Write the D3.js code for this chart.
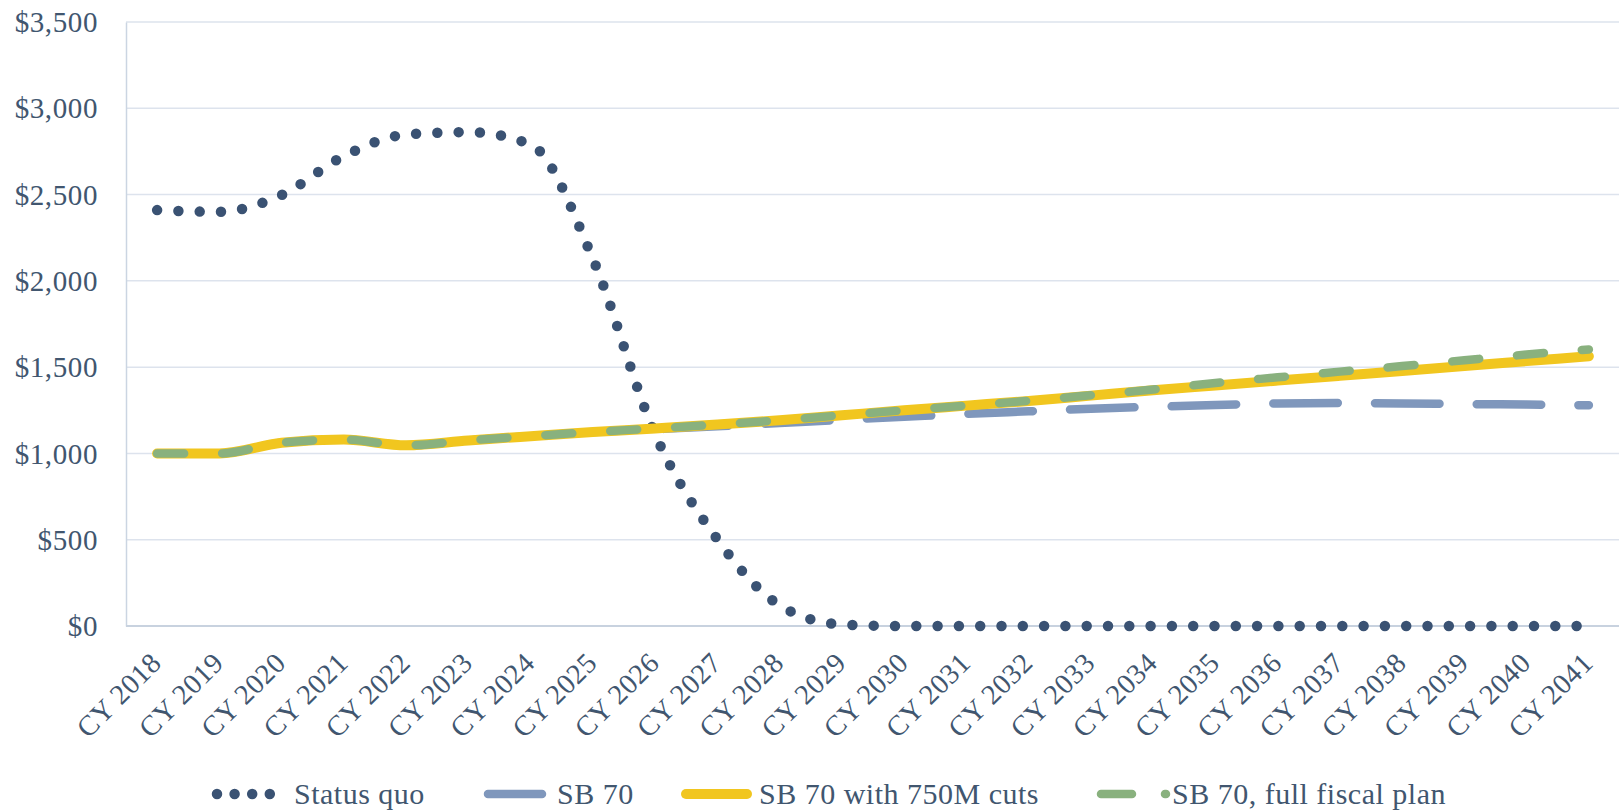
<html>
<head>
	<script src="https://d3js.org/d3.v7.min.js"></script>
	<style>
		body { margin: 0; background: #fff; }
		text { font-family: "Liberation Serif", "Times New Roman", serif; fill: #41566f; }
	</style>
</head>
<body>
	<svg></svg>
</body>
<script type="text/javascript">
	// values, one entry per calendar year
	var years = ["CY 2018", "CY 2019", "CY 2020", "CY 2021", "CY 2022", "CY 2023", "CY 2024", "CY 2025",
		"CY 2026", "CY 2027", "CY 2028", "CY 2029", "CY 2030", "CY 2031", "CY 2032", "CY 2033",
		"CY 2034", "CY 2035", "CY 2036", "CY 2037", "CY 2038", "CY 2039", "CY 2040", "CY 2041"];
	var statusQuo = [2410, 2400, 2498, 2723, 2848, 2862, 2790, 2128, 1111, 502, 120, 9,
		0, 0, 0, 0, 0, 0, 0, 0, 0, 0, 0, 0];
	var sb70 = [1000, 1000, 1062, 1080, 1047, 1075, 1100, 1124, 1140, 1157, 1176, 1195,
		1212, 1229, 1244, 1259, 1270, 1280, 1290, 1292, 1290, 1286, 1283, 1279];
	var sb70Cuts = [1000, 1000, 1062, 1080, 1047, 1075, 1100, 1124, 1145, 1167, 1192, 1221,
		1250, 1277, 1304, 1335, 1366, 1394, 1422, 1450, 1478, 1507, 1535, 1563];
	var sb70Full = [1000, 1000, 1062, 1080, 1047, 1075, 1100, 1124, 1145, 1167, 1192, 1221,
		1250, 1277, 1305, 1337, 1370, 1408, 1441, 1474, 1506, 1540, 1573, 1602];
	var yTicks = [0, 500, 1000, 1500, 2000, 2500, 3000, 3500];

	var width = 1619, height = 812;
	var margin = {"left": 126, "right": -1, "top": 22, "bottom": 186};

	var svg = d3.select("svg")
		.attr("width", width)
		.attr("height", height);

	var x = d3.scaleBand()
		.domain(years)
		.range([margin.left, width - margin.right]);
	var y = d3.scaleLinear()
		.domain([0, 3500])
		.range([height - margin.bottom, margin.top]);
	var cx = function(d) { return x(d) + x.bandwidth() / 2; };

	// gridlines
	svg.append("g")
		.selectAll("line")
		.data(yTicks.slice(1))
		.join("line")
		.attr("x1", margin.left).attr("x2", width)
		.attr("y1", function(d) { return y(d); })
		.attr("y2", function(d) { return y(d); })
		.attr("stroke", "#dde3ed")
		.attr("stroke-width", 1.5);

	// y axis
	var yAxis = svg.append("g")
		.attr("transform", "translate(" + margin.left + ",0)")
		.call(d3.axisLeft(y).tickValues(yTicks).tickSize(0).tickPadding(28)
			.tickFormat(function(d) { return "$" + d3.format(",")(d); }));
	yAxis.select(".domain").attr("stroke", "#cbd5e2").attr("stroke-width", 1.5);
	yAxis.selectAll("text")
		.attr("font-size", 29)
		.attr("letter-spacing", 0.6)
		.attr("dy", "0.33em");

	// x axis
	var xAxis = svg.append("g")
		.attr("transform", "translate(0," + y(0) + ")")
		.call(d3.axisBottom(x).tickSize(0).tickPadding(0));
	xAxis.select(".domain").attr("stroke", "#c8d2df").attr("stroke-width", 2).attr("d", "M" + margin.left + ",0H" + width);
	xAxis.selectAll("text")
		.attr("font-size", 28.5)
		.attr("letter-spacing", 0.4)
		.attr("text-anchor", "end")
		.attr("dy", "0.33em")
		.attr("y", 0)
		.attr("transform", "translate(-1,32) rotate(-45)");

	var line = d3.line()
		.x(function(d, i) { return cx(years[i]); })
		.y(function(d) { return y(d); })
		.curve(d3.curveMonotoneX);

	var series = [
		{"values": statusQuo, "color": "#3a5273", "width": 10.5, "dash": "0,21.3"},
		{"values": sb70, "color": "#7f97bc", "width": 8.5, "dash": "64.5,37.2"},
		{"values": sb70Cuts, "color": "#f1c61f", "width": 10, "dash": null},
		{"values": sb70Full, "color": "#89b17e", "width": 8.5, "dash": "27,38"}
	];

	series.forEach(function(s) {
		svg.append("path")
			.datum(s.values)
			.attr("fill", "none")
			.attr("stroke", s.color)
			.attr("stroke-width", s.width)
			.attr("stroke-linecap", "round")
			.attr("stroke-linejoin", "round")
			.attr("stroke-dasharray", s.dash)
			.attr("d", line);
	});

	// legend
	var legendY = 794;
	var legend = [
		{"label": "Status quo", "x1": 217, "x2": 270, "tx": 294, "s": series[0], "dash": "0,17.6"},
		{"label": "SB 70", "x1": 488, "x2": 542, "tx": 557, "s": series[1], "dash": null},
		{"label": "SB 70 with 750M cuts", "x1": 686, "x2": 747, "tx": 759, "s": series[2], "dash": null},
		{"label": "SB 70, full fiscal plan", "x1": 1101, "x2": 1166, "tx": 1172, "s": series[3], "dash": "31,33"}
	];
	var lg = svg.append("g").selectAll("g").data(legend).join("g");
	lg.append("line")
		.attr("x1", function(d) { return d.x1; })
		.attr("x2", function(d) { return d.x2; })
		.attr("y1", legendY).attr("y2", legendY)
		.attr("stroke", function(d) { return d.s.color; })
		.attr("stroke-width", function(d) { return d.s.width; })
		.attr("stroke-linecap", "round")
		.attr("stroke-dasharray", function(d) { return d.dash; });
	lg.append("text")
		.attr("x", function(d) { return d.tx; })
		.attr("y", legendY)
		.attr("dy", "0.33em")
		.attr("font-size", 30)
		.attr("letter-spacing", 0.5)
		.text(function(d) { return d.label; });
</script>
</html>
